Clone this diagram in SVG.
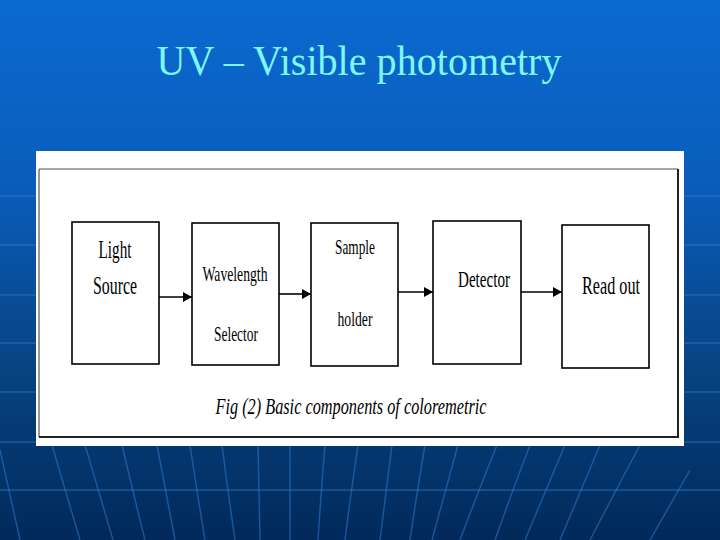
<svg xmlns="http://www.w3.org/2000/svg" width="720" height="540" viewBox="0 0 720 540">
<defs>
<linearGradient id="bg" x1="0" y1="0" x2="0" y2="1">
<stop offset="0" stop-color="#0b6ad0"/>
<stop offset="0.35" stop-color="#0a5cba"/>
<stop offset="0.7" stop-color="#07427f"/>
<stop offset="1" stop-color="#01295a"/>
</linearGradient>
<marker id="ah" markerWidth="10" markerHeight="10" refX="9" refY="5" orient="auto" markerUnits="userSpaceOnUse">
<path d="M0,0 L9,5 L0,10 Z" fill="#000"/>
</marker>
<style>
.grid{stroke:#2f7fd6;stroke-width:1.5;opacity:0.5;fill:none}
.box{fill:#fff;stroke:#000;stroke-width:1.6}
.lbl{font-family:"Liberation Serif","Times New Roman",serif;fill:#000;text-anchor:middle}
.conn{stroke:#000;stroke-width:1.6;fill:none;marker-end:url(#ah)}
</style>
</defs>
<rect width="720" height="540" fill="url(#bg)"/>
<g id="grid">
<path class="grid" d="M0,196H720M0,245H720M0,295H720M0,343H720M0,392H720M0,442H720M0,490H720"/>
<path class="grid" d="M52,445Q66,492 80,540M85,445Q99,492 113,540M122,445Q133,492 145,540M157,445Q166,492 175,540M190,445Q197,492 205,540M222,445Q228,492 235,540M258,445L260,540M290,445L290,540M325,445Q321,492 318,540M358,445Q351,492 345,540M392,445Q386,492 380,540M425,445Q417,492 410,540M458,445Q445,492 432,540M497,445Q478,492 460,540M530,445Q512,492 495,540M565,445Q545,492 525,540M600,445Q580,492 560,540M640,445Q615,492 590,540M690,470Q670,505 650,540M0,450Q10,495 20,540"/>
</g>
<text x="359" y="75" font-family="Liberation Serif,'Times New Roman',serif" font-size="42" fill="#7ff7f7" text-anchor="middle" textLength="405" lengthAdjust="spacingAndGlyphs">UV – Visible photometry</text>
<g id="panel">
<rect x="36" y="151" width="648" height="295" fill="#fff"/>
<path d="M39,169H678" stroke="#8a8a8a" stroke-width="1.5" fill="none"/>
<path d="M39,169V437" stroke="#555" stroke-width="1.2" fill="none"/>
<path d="M678,169V437H39" stroke="#222" stroke-width="2" fill="none"/>
</g>
<g id="connectors">
<path class="conn" d="M159,297H192"/>
<path class="conn" d="M279,294H311" stroke-width="2.2"/>
<path class="conn" d="M398,292H433"/>
<path class="conn" d="M521,292H562"/>
</g>
<g id="light-source">
<rect class="box" x="72" y="222" width="87" height="142"/>
<text class="lbl" x="115" y="258" font-size="25" textLength="33" lengthAdjust="spacingAndGlyphs">Light</text>
<text class="lbl" x="115" y="294" font-size="25" textLength="44" lengthAdjust="spacingAndGlyphs">Source</text>
</g>
<g id="wavelength-selector">
<rect class="box" x="192" y="223" width="87" height="142"/>
<text class="lbl" x="235" y="281" font-size="21" textLength="65" lengthAdjust="spacingAndGlyphs">Wavelength</text>
<text class="lbl" x="236" y="341" font-size="21" textLength="44" lengthAdjust="spacingAndGlyphs">Selector</text>
</g>
<g id="sample-holder">
<rect class="box" x="311" y="223" width="87" height="143"/>
<text class="lbl" x="355" y="254" font-size="21" textLength="40" lengthAdjust="spacingAndGlyphs">Sample</text>
<text class="lbl" x="355" y="326" font-size="21" textLength="35" lengthAdjust="spacingAndGlyphs">holder</text>
</g>
<g id="detector">
<rect class="box" x="433" y="221" width="88" height="143"/>
<text class="lbl" x="484" y="287" font-size="24" textLength="52" lengthAdjust="spacingAndGlyphs">Detector</text>
</g>
<g id="read-out">
<rect class="box" x="562" y="225" width="87" height="143"/>
<text class="lbl" x="611" y="294" font-size="25" textLength="58" lengthAdjust="spacingAndGlyphs">Read out</text>
</g>
<text class="lbl" x="351" y="414" font-size="23" font-style="italic" textLength="271" lengthAdjust="spacingAndGlyphs">Fig (2) Basic components of coloremetric</text>
</svg>
